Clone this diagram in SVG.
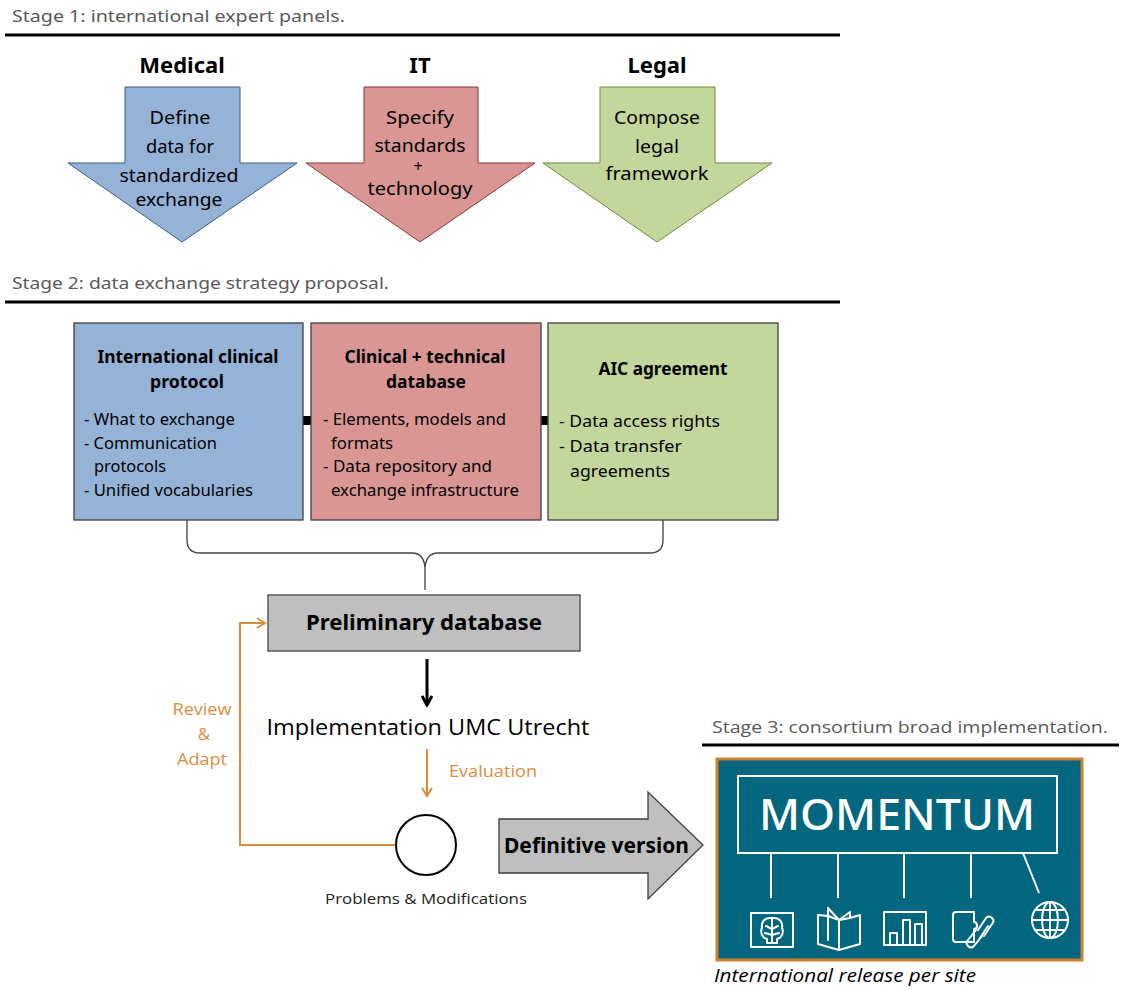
<svg xmlns="http://www.w3.org/2000/svg" width="1121" height="990" viewBox="0 0 1121 990">
<style>
.stage{font-family:"Noto Sans",sans-serif;font-size:17px;fill:#595959}
.hd{font-family:"Noto Sans",sans-serif;font-size:22px;font-weight:bold;fill:#000;text-anchor:middle}
.at{font-family:"Noto Sans",sans-serif;font-size:18px;fill:#000;text-anchor:middle}
.bt{font-family:"Noto Sans",sans-serif;font-size:17px;font-weight:bold;fill:#000;text-anchor:middle}
.bl{font-family:"Noto Sans",sans-serif;font-size:16px;fill:#000}
.seg{font-family:"Open Sans",sans-serif;fill:#000}
.or{font-family:"Open Sans",sans-serif;font-size:17px;fill:#DF8B3E}
.rule{stroke:#000;stroke-width:3}
.ico{fill:none;stroke:#fff;stroke-width:2;stroke-linejoin:round;stroke-linecap:round}
</style>
<defs>
<marker id="blk" markerWidth="12" markerHeight="12" refX="10" refY="6" orient="auto" markerUnits="userSpaceOnUse">
<path d="M1 1 L10 6 L1 11" fill="none" stroke="#000" stroke-width="3"/>
</marker>
<marker id="org" markerWidth="12" markerHeight="12" refX="10" refY="6" orient="auto" markerUnits="userSpaceOnUse">
<path d="M2 1 L10 6 L2 11" fill="none" stroke="#DF8B3E" stroke-width="2"/>
</marker>
</defs>
<rect width="1121" height="990" fill="#fff"/>

<g id="stage1">
<text class="stage" x="12" y="22" textLength="333" lengthAdjust="spacingAndGlyphs">Stage 1: international expert panels.</text>
<line class="rule" x1="5" y1="35" x2="840" y2="35"/>
</g>

<g id="medical">
<text class="hd" x="182" y="73">Medical</text>
<polygon points="125,87 240,87 240,163 297,163 182,242 68,163 125,163" fill="#95B3D7" stroke="#385D8A" stroke-width="1"/>
<text class="at" x="180" y="124" textLength="61" lengthAdjust="spacingAndGlyphs">Define</text>
<text class="at" x="180" y="153" textLength="68" lengthAdjust="spacingAndGlyphs">data for</text>
<text class="at" x="179" y="182" textLength="119" lengthAdjust="spacingAndGlyphs">standardized</text>
<text class="at" x="179" y="206" textLength="87" lengthAdjust="spacingAndGlyphs">exchange</text>
</g>

<g id="it">
<text class="hd" x="420" y="73">IT</text>
<polygon points="364,87 478,87 478,163 535,163 420,242 306,163 364,163" fill="#D99694" stroke="#8C3836" stroke-width="1"/>
<text class="at" x="420" y="124" textLength="68" lengthAdjust="spacingAndGlyphs">Specify</text>
<text class="at" x="420" y="152" textLength="91" lengthAdjust="spacingAndGlyphs">standards</text>
<text class="at" x="418" y="172" style="font-size:16px">+</text>
<text class="at" x="420" y="195" textLength="105" lengthAdjust="spacingAndGlyphs">technology</text>
</g>

<g id="legal">
<text class="hd" x="657" y="73">Legal</text>
<polygon points="600,87 715,87 715,163 772,163 657,242 543,163 600,163" fill="#C3D69B" stroke="#71893F" stroke-width="1"/>
<text class="at" x="657" y="124" textLength="86" lengthAdjust="spacingAndGlyphs">Compose</text>
<text class="at" x="657" y="153" textLength="44" lengthAdjust="spacingAndGlyphs">legal</text>
<text class="at" x="657" y="180" textLength="103" lengthAdjust="spacingAndGlyphs">framework</text>
</g>

<g id="stage2">
<text class="stage" x="12" y="289" textLength="377" lengthAdjust="spacingAndGlyphs">Stage 2: data exchange strategy proposal.</text>
<line class="rule" x1="5" y1="302" x2="840" y2="302"/>
</g>

<g id="connectors">
<rect x="303" y="416" width="8" height="9" fill="#000"/>
<rect x="541" y="416" width="8" height="9" fill="#000"/>
<path d="M187 520 V540 Q187 553 200 553 H412 Q424 553 425 568 V590 M425 590 V568 Q426 553 438 553 H650 Q663 553 663 540 V520" fill="none" stroke="#404040" stroke-width="1.3"/>
<line x1="427" y1="659" x2="427" y2="705" stroke="#000" stroke-width="3" marker-end="url(#blk)"/>
<line x1="427" y1="749" x2="427" y2="796" stroke="#DF8B3E" stroke-width="2" marker-end="url(#org)"/>
<path d="M396 845 H240 V623 H265" fill="none" stroke="#DF8B3E" stroke-width="2" marker-end="url(#org)"/>
</g>

<g id="protocol">
<rect x="74" y="323" width="229" height="197" fill="#95B3D7" stroke="#404040" stroke-width="1.3"/>
<text class="bt" x="188" y="363" textLength="181" lengthAdjust="spacingAndGlyphs">International clinical</text>
<text class="bt" x="187" y="388" textLength="74" lengthAdjust="spacingAndGlyphs">protocol</text>
<text class="bl" x="84" y="425" textLength="151" lengthAdjust="spacingAndGlyphs">- What to exchange</text>
<text class="bl" x="84" y="449" textLength="133" lengthAdjust="spacingAndGlyphs">- Communication</text>
<text class="bl" x="94" y="472" textLength="72" lengthAdjust="spacingAndGlyphs">protocols</text>
<text class="bl" x="84" y="496" textLength="169" lengthAdjust="spacingAndGlyphs">- Unified vocabularies</text>
</g>

<g id="database">
<rect x="311" y="323" width="230" height="197" fill="#D99694" stroke="#404040" stroke-width="1.3"/>
<text class="bt" x="425" y="363" textLength="161" lengthAdjust="spacingAndGlyphs">Clinical + technical</text>
<text class="bt" x="426" y="388" textLength="80" lengthAdjust="spacingAndGlyphs">database</text>
<text class="bl" x="323" y="425" textLength="183" lengthAdjust="spacingAndGlyphs">- Elements, models and</text>
<text class="bl" x="331" y="449" textLength="62" lengthAdjust="spacingAndGlyphs">formats</text>
<text class="bl" x="323" y="472" textLength="169" lengthAdjust="spacingAndGlyphs">- Data repository  and</text>
<text class="bl" x="331" y="496" textLength="188" lengthAdjust="spacingAndGlyphs">exchange  infrastructure</text>
</g>

<g id="agreement">
<rect x="548" y="323" width="230" height="197" fill="#C3D69B" stroke="#404040" stroke-width="1.3"/>
<text class="bt" x="663" y="375" textLength="129" lengthAdjust="spacingAndGlyphs">AIC agreement</text>
<text class="bl" x="559" y="427" style="font-size:17px" textLength="161" lengthAdjust="spacingAndGlyphs">- Data access rights</text>
<text class="bl" x="559" y="452" style="font-size:17px" textLength="123" lengthAdjust="spacingAndGlyphs">- Data transfer</text>
<text class="bl" x="570" y="477" style="font-size:17px" textLength="100" lengthAdjust="spacingAndGlyphs">agreements</text>
</g>

<g id="preliminary">
<rect x="268" y="595" width="312" height="56" fill="#BFBFBF" stroke="#595959" stroke-width="1.5"/>
<text class="hd" x="424" y="630" style="font-size:21px" textLength="236" lengthAdjust="spacingAndGlyphs">Preliminary database</text>
</g>

<g id="implementation">
<text class="seg" x="428" y="735" style="font-size:22px;text-anchor:middle" textLength="323" lengthAdjust="spacingAndGlyphs">Implementation UMC Utrecht</text>
</g>

<g id="evaluation-label">
<text class="or" x="449" y="777" textLength="88" lengthAdjust="spacingAndGlyphs">Evaluation</text>
</g>

<g id="review-label">
<text class="or" x="202" y="715" text-anchor="middle" textLength="59" lengthAdjust="spacingAndGlyphs">Review</text>
<text class="or" x="204" y="740" text-anchor="middle">&amp;</text>
<text class="or" x="202" y="765" text-anchor="middle" textLength="50" lengthAdjust="spacingAndGlyphs">Adapt</text>
</g>

<g id="problems">
<circle cx="426" cy="845" r="30" fill="#fff" stroke="#000" stroke-width="2"/>
<text class="seg" x="426" y="904" style="font-size:15px;text-anchor:middle;fill:#222" textLength="202" lengthAdjust="spacingAndGlyphs">Problems &amp; Modifications</text>
</g>

<g id="definitive">
<polygon points="499,819 648,819 648,792 703,845 648,899 648,873 499,873" fill="#BFBFBF" stroke="#404040" stroke-width="1.3"/>
<text class="hd" x="504" y="853" style="font-size:21px;text-anchor:start" textLength="185" lengthAdjust="spacingAndGlyphs">Definitive version</text>
</g>

<g id="stage3">
<text class="seg" x="712" y="733" style="font-size:17px;fill:#595959" textLength="396" lengthAdjust="spacingAndGlyphs">Stage 3: consortium broad implementation.</text>
<line class="rule" x1="702" y1="745" x2="1119" y2="745"/>
</g>

<g id="momentum">
<rect x="717" y="759" width="365" height="201" fill="#03667F" stroke="#D07F2E" stroke-width="3"/>
<rect x="738" y="776" width="319" height="77" fill="none" stroke="#fff" stroke-width="2"/>
<text x="897" y="830" font-family="'Noto Sans',sans-serif" font-size="44" font-weight="500" fill="#fff" text-anchor="middle" textLength="276" lengthAdjust="spacingAndGlyphs">MOMENTUM</text>
<g stroke="#fff" stroke-width="2">
<line x1="771" y1="853" x2="771" y2="898"/>
<line x1="838" y1="853" x2="838" y2="898"/>
<line x1="904" y1="853" x2="904" y2="898"/>
<line x1="971" y1="853" x2="971" y2="898"/>
<line x1="1023" y1="853" x2="1039" y2="893"/>
</g>
<g class="ico">
<rect x="751" y="913" width="42" height="34"/>
<path d="M772 918 C764 917 761 923 762 928 C760 932 762 938 767 939 L767 943 L777 943 L777 939 C782 938 784 932 782 928 C783 923 780 917 772 918 Z"/>
<path d="M772 918 V943 M766 926 L772 929 L778 926 M765 933 L772 935 L779 933"/>
</g>
<g class="ico">
<path d="M818 915 V944 L839 950 L860 944 V915 L850 918 V912 L839 920 L828 908 V916 Z"/>
<path d="M828 916 L839 920 V950 M839 920 L850 918 M828 908 V940"/>
</g>
<g class="ico">
<rect x="884" y="912" width="42" height="33"/>
<path d="M890 945 V933 H897 V945 M903 945 V920 H910 V945 M915 945 V924 H922 V945"/>
</g>
<g class="ico">
<path d="M956 912 H974 V922 C978 922 978 929 974 929 V942 H956 Q953 942 953 939 V915 Q953 912 956 912 Z"/>
<path d="M978 930 L986 918 Q989 915 992 918 Q995 921 992 924 L984 936 M982 936 L974 946 Q971 949 968 946 Q965 943 968 940 L976 930"/>
<path d="M980 938 L988 926"/>
</g>
<g class="ico">
<circle cx="1050" cy="920" r="18"/>
<ellipse cx="1050" cy="920" rx="8" ry="18"/>
<path d="M1032 920 H1068 M1050 902 V938 M1035 910 H1065 M1035 930 H1065"/>
</g>
<text x="714" y="982" font-family="'Open Sans',sans-serif" font-size="18" font-style="italic" fill="#000" textLength="262" lengthAdjust="spacingAndGlyphs">International release per site</text>
</g>
</svg>
